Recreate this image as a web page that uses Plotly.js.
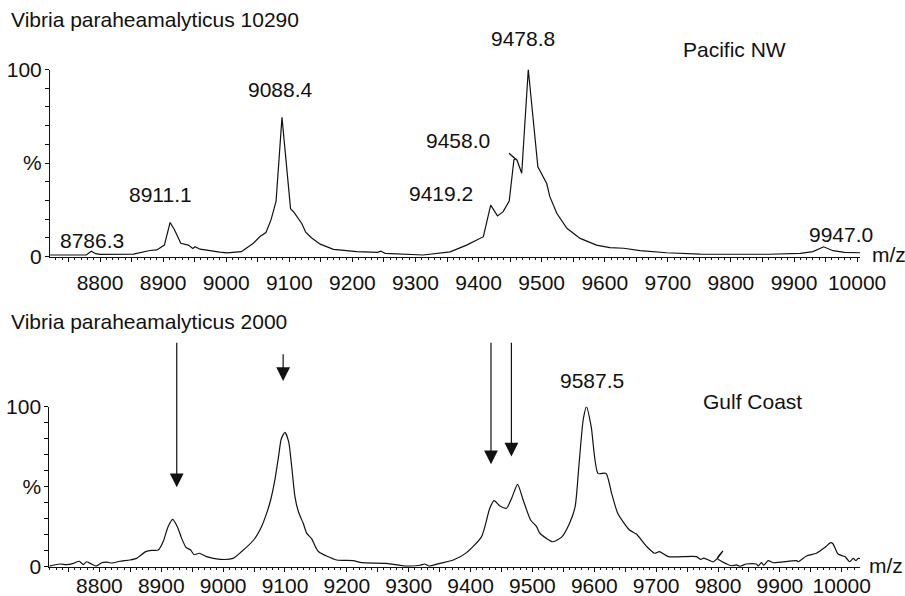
<!DOCTYPE html>
<html>
<head>
<meta charset="utf-8">
<script src="https://cdn.plot.ly/plotly-3.0.1.min.js"></script>
<style>
  html, body { margin: 0; padding: 0; background: #ffffff; }
  #chart { width: 905px; height: 596px; }
</style>
</head>
<body>
<div id="chart"></div>
<script>
// ---- Spectrum 1: Vibria paraheamalyticus 10290 (Pacific NW) ----
const topMz = [8721, 8778, 8786.3, 8793, 8800, 8853, 8879, 8890, 8902, 8911.1,
  8918, 8928, 8940, 8947, 8950.6, 8958.5, 8990, 9001, 9024, 9043,
  9053.6, 9063, 9071, 9079, 9088.4, 9097, 9102, 9107, 9113, 9120,
  9126, 9135, 9149, 9170, 9207, 9240, 9245, 9252, 9312, 9355,
  9381, 9407.6, 9419.2, 9430, 9439, 9448.6, 9456, 9458.0, 9448.2, 9458.0,
  9461, 9468.4, 9478.8, 9494, 9508, 9513, 9524, 9540, 9561, 9587,
  9608, 9630, 9656, 9698, 9751, 9800, 9860, 9910, 9930, 9947.0,
  9962, 9980, 10005];
const topInt = [0.8, 0.8, 2.8, 1.5, 1.1, 1.3, 3.2, 3.5, 6.1, 18.2,
  14.3, 7.1, 6.1, 4.3, 5.2, 3.9, 2.3, 1.9, 2.6, 7.1,
  10.7, 12.8, 19.6, 29.4, 74.4, 45, 25.5, 23.8, 21, 17.5,
  13, 10, 6.6, 3.8, 2.6, 2.2, 2.9, 1.7, 0.8, 2.5,
  6.1, 10.6, 27.5, 21.7, 24, 29.7, 51.6, 52.3, 55.2, 52.3,
  51.5, 44.5, 100, 48, 39, 32, 23.1, 15.1, 9.7, 6.1,
  4.7, 4.4, 3.1, 2.0, 1.3, 1.2, 1.2, 1.7, 2.6, 5.2,
  3.1, 2.2, 2.0];
const topPeaks = [8786.3, 8911.1, 9088.4, 9419.2, 9458.0, 9478.8, 9947.0];

// ---- Spectrum 2: Vibria paraheamalyticus 2000 (Gulf Coast) ----
const botMz = [8719, 8736, 8747, 8758, 8767.5, 8774, 8779, 8785, 8794.5, 8803.7,
  8811.8, 8820, 8833, 8849.4, 8860, 8875, 8884.5, 8895, 8903, 8911,
  8918.5, 8926, 8933, 8940, 8947.5, 8953, 8961.5, 8973, 8995, 9016,
  9030, 9050, 9062, 9070, 9077, 9084, 9090, 9094, 9100, 9106,
  9111, 9116, 9122, 9129.5, 9135, 9143, 9154, 9183.5, 9210, 9224,
  9264, 9294, 9318, 9326, 9333, 9350.5, 9372, 9393.6, 9417.8, 9431,
  9438, 9447.5, 9458, 9466.4, 9476, 9485, 9497, 9506.8, 9512, 9533,
  9548, 9560, 9569, 9575, 9582, 9587.5, 9595, 9606, 9619, 9628,
  9638, 9657, 9668, 9685, 9698, 9705, 9719.5, 9765, 9772, 9777,
  9792, 9799, 9808, 9799, 9814, 9822, 9830, 9835, 9846, 9862,
  9865, 9870, 9874, 9881, 9889, 9927, 9930, 9943, 9959, 9973,
  9982, 9986, 9994, 10005, 10013, 10018.6, 10023, 10026.6, 10031];
const botInt = [0.4, 1.7, 1.3, 2.1, 3.4, 1.3, 3.1, 2.1, 0.4, 2.5,
  2.9, 2.3, 3.4, 4.2, 5.2, 9.4, 10.2, 10.4, 15.6, 25,
  29.6, 25, 17.7, 12.1, 10.4, 7.5, 8.4, 6.3, 4.6, 5.2,
  9.5, 17, 25, 33, 42, 55, 70, 80, 84, 78,
  62, 44, 34, 27.1, 21, 17.5, 9.5, 4.2, 3.8, 2.5,
  2.1, 0.4, 0.9, 1.7, 0.4, 2.1, 4.2, 8.8, 18.8, 36.5,
  41.3, 37.9, 36.5, 42.8, 51.5, 41.7, 29.2, 25, 20.9, 15.6,
  18.8, 27.1, 37.5, 62.5, 91.7, 100, 87.5, 58.3, 58.3, 45.8,
  33.3, 22.9, 20.4, 12.5, 8.4, 9.4, 6.3, 6.3, 4.6, 5.4,
  3.1, 5.2, 9.8, 5.2, 1.7, 0.6, 1.1, 0.2, 1.7, 1.7,
  0.4, 2.5, 0.9, 3.8, 2.5, 3.8, 3.1, 6.7, 8.4, 12.1,
  15, 14.2, 7.9, 6.3, 3.1, 5.2, 3.8, 5.2, 5.0];
const botPeaks = [9587.5];

// Arrows marking the peaks of the first strain that the second one lacks
const arrowMz   = [8925, 9097, 9433, 9466];
const arrowTip  = [49.6, 116, 64, 68.8];     // intensity level of the head
const arrowTail = [140.6, 133.4, 140.6, 140.6];

// Axis ticks
const tickStep = 50;
const xTickVals = [];
for (let v = 8750; v <= 10000; v += tickStep) xTickVals.push(v);
const xTickText = xTickVals.map(v => (v % 100 === 0 ? String(v) : ''));
const yTickVals = [0, 10, 20, 30, 40, 50, 60, 70, 80, 90, 100];
const yTickText = yTickVals.map(v => (v === 0 ? '0' : v === 50 ? '%' : v === 100 ? '100' : ''));

// ---- Layout geometry ----
const W = 905, H = 596;
const FONT = 'Liberation Sans, Arial, Helvetica, sans-serif';
const FS = 21;
const INK = '#111111';
const domX1 = [50 / W, 860 / W];
const domY1 = [(H - 256.5) / H, (H - 69.5) / H];
const domX2 = [49.3 / W, 860 / W];
const domY2 = [(H - 566.7) / H, (H - 406.7) / H];

function xAxisCfg(dom, range, anchor, standoff) {
  return {
    domain: dom, range: range, anchor: anchor,
    tickmode: 'array', tickvals: xTickVals, ticktext: xTickText,
    ticks: 'outside', ticklen: 4, tickwidth: 1, tickcolor: INK,
    ticklabelstandoff: standoff,
    minor: { tickmode: 'linear', tick0: 8700, dtick: 10, ticks: 'outside', ticklen: 2, tickwidth: 1, tickcolor: INK },
    showline: true, linecolor: INK, linewidth: 1,
    showgrid: false, zeroline: false,
    tickfont: { family: FONT, size: FS, color: INK }
  };
}
function yAxisCfg(dom, anchor) {
  return {
    domain: dom, range: [0, 100], anchor: anchor,
    tickmode: 'array', tickvals: yTickVals, ticktext: yTickText,
    ticks: 'outside', ticklen: 4, tickwidth: 1, tickcolor: INK,
    ticklabelstandoff: -1,
    showline: true, linecolor: INK, linewidth: 1,
    showgrid: false, zeroline: false,
    tickfont: { family: FONT, size: FS, color: INK }
  };
}

const traces = [
  { x: topMz, y: topInt, xaxis: 'x', yaxis: 'y', type: 'scatter', mode: 'lines',
    line: { color: INK, width: 1.2 }, hoverinfo: 'skip' },
  { x: botMz, y: botInt, xaxis: 'x2', yaxis: 'y2', type: 'scatter', mode: 'lines',
    line: { color: INK, width: 1.2, shape: 'spline', smoothing: 0.6 }, hoverinfo: 'skip' }
];

const txtFont = { family: FONT, size: FS, color: INK };
const annotations = [];

function peakIntensity(mzArr, intArr, mz) {
  const i = mzArr.indexOf(mz);
  return intArr[i];
}

// Peak labels (offset from the peak apex)
const topLabelShift = [[1, 11], [-9.4, 27.5], [-1, 27.4], [-49.9, 11.8], [-56.8, 18.4], [-5.5, 30.7], [17.4, 11.8]];
topPeaks.forEach((mz, i) => {
  annotations.push({
    xref: 'x', yref: 'y', x: mz, y: peakIntensity(topMz, topInt, mz),
    text: mz.toFixed(1), showarrow: false, font: txtFont,
    xanchor: 'center', yanchor: 'middle',
    xshift: topLabelShift[i][0], yshift: topLabelShift[i][1]
  });
});
const botLabelShift = [[5.4, 25.9]];
botPeaks.forEach((mz, i) => {
  annotations.push({
    xref: 'x2', yref: 'y2', x: mz, y: peakIntensity(botMz, botInt, mz),
    text: mz.toFixed(1), showarrow: false, font: txtFont,
    xanchor: 'center', yanchor: 'middle',
    xshift: botLabelShift[i][0], yshift: botLabelShift[i][1]
  });
});

// Arrows (heads placed on the lower panel's intensity scale)
const y2ToPaper = v => domY2[0] + (v / 100) * (domY2[1] - domY2[0]);
const y2PxPerUnit = (domY2[1] - domY2[0]) * H / 100;
arrowMz.forEach((mz, i) => {
  annotations.push({
    xref: 'x2', yref: 'paper', x: mz, y: y2ToPaper(arrowTip[i]),
    axref: 'pixel', ayref: 'pixel', ax: 0, ay: -(arrowTail[i] - arrowTip[i]) * y2PxPerUnit,
    text: ' ', font: { size: 1 }, borderpad: 0,
    showarrow: true, arrowhead: 2, arrowsize: 2.3, arrowwidth: 1.2, arrowcolor: INK,
    standoff: 0, startstandoff: 0
  });
});

// Panel captions and axis units
function paperText(text, px, py, xanchor) {
  annotations.push({
    xref: 'paper', yref: 'paper', x: px / W, y: 1 - py / H,
    text: text, showarrow: false, font: txtFont,
    xanchor: xanchor, yanchor: 'middle'
  });
}
paperText('Vibria paraheamalyticus 10290', 9, 20, 'left');
paperText('Vibria paraheamalyticus 2000', 9, 321.7, 'left');
paperText('Pacific NW', 734, 49.5, 'center');
paperText('Gulf Coast', 752.3, 401.5, 'center');
paperText('m/z', 869.5, 254.6, 'left');
paperText('m/z', 867, 565.6, 'left');

const layout = {
  width: W, height: H,
  margin: { l: 0, r: 0, t: 0, b: 0, pad: 0 },
  paper_bgcolor: '#ffffff', plot_bgcolor: '#ffffff',
  showlegend: false,
  font: { family: FONT, size: FS, color: INK },
  xaxis: xAxisCfg(domX1, [8720.7, 10004.6], 'y', 3),
  yaxis: yAxisCfg(domY1, 'x'),
  xaxis2: xAxisCfg(domX2, [8719, 10029.5], 'y2', -4),
  yaxis2: yAxisCfg(domY2, 'x2'),
  annotations: annotations
};

Plotly.newPlot('chart', traces, layout, { staticPlot: true, displayModeBar: false });
</script>
</body>
</html>
